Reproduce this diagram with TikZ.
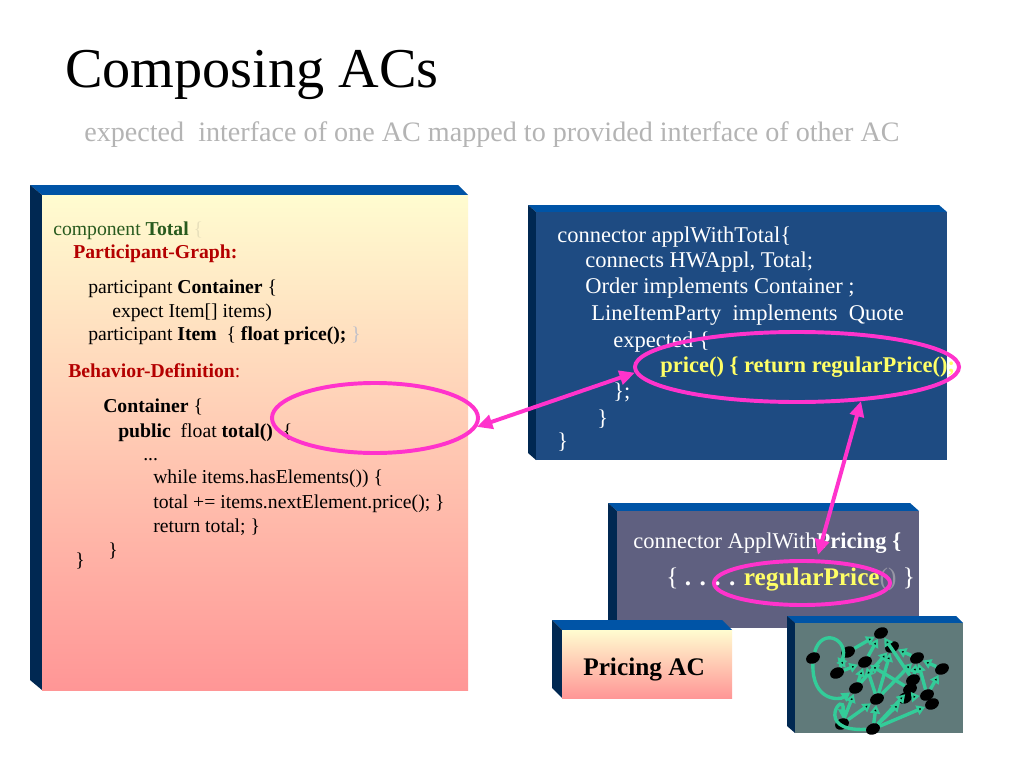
\documentclass[tikz,border=0pt]{standalone}
\usepackage{fontspec}
\setmainfont{Liberation Serif}
\usetikzlibrary{shapes.geometric,arrows.meta}
\definecolor{acface}{RGB}{0,84,166}
\definecolor{acside}{RGB}{0,40,82}
\definecolor{acyellow}{RGB}{255,252,208}
\definecolor{acpeach}{RGB}{255,214,182}
\definecolor{acsalmon}{RGB}{255,150,150}
\definecolor{connblue}{RGB}{30,75,130}
\definecolor{conngray}{RGB}{95,96,128}
\definecolor{graphgray}{RGB}{96,122,122}
\definecolor{hilite}{RGB}{255,51,204}
\definecolor{codegreen}{RGB}{40,90,30}
\definecolor{codered}{RGB}{180,0,0}
\definecolor{codeyellow}{RGB}{255,255,102}
\definecolor{faintbrace}{RGB}{232,224,188}
\definecolor{faintgray}{RGB}{150,150,165}
\definecolor{edgegreen}{RGB}{51,204,153}
\definecolor{subgray}{RGB}{180,180,180}

\begin{document}
\begin{tikzpicture}[x=0.025cm, y=-0.025cm,
    topface/.style={fill=acface},
    sideface/.style={fill=acside},
    codeline/.style={anchor=base west, inner sep=0pt, font=\fontsize{14}{16}\selectfont},
    connline/.style={anchor=base west, inner sep=0pt, text=white, font=\fontsize{16}{19}\selectfont},
    ring/.style={ellipse, draw=hilite, line width=2.8pt, inner sep=0pt},
    link/.style={draw=hilite, line width=2.8pt, {Triangle[length=11pt,width=10pt]}-{Triangle[length=11pt,width=10pt]}},
    gnode/.style={ellipse, fill=black, minimum width=0.36cm, minimum height=0.27cm, inner sep=0pt, rotate=25},
    gedge/.style={draw=edgegreen, line width=2.4pt, -{Triangle[length=6pt,width=7pt]}}]

        \fill[white] (0,0) rectangle (1024,768);
        \useasboundingbox (0,0) rectangle (1024,768);

        \node[anchor=base west, inner sep=0pt, font=\fontsize{40}{48}\selectfont] (title) at (65,88) {Composing ACs};
        \node[anchor=base west, inner sep=0pt, text=subgray, font=\fontsize{20}{24}\selectfont] (subtitle) at (84,142) {expected\ \ interface of one AC mapped to provided interface of other AC};

        \fill[topface] (30,185) -- (458,185) -- (468,195) -- (42,195) -- cycle;
        \fill[sideface] (30,185) -- (42,195) -- (42,690) -- (30,680) -- cycle;
        \shade[top color=acyellow, middle color=acpeach, bottom color=acsalmon] (42,195) rectangle (468,690);

        \node[codeline, text=codegreen] (comp) at (53,235) {component \textbf{Total} \textcolor{faintbrace}{\{}};
        \node[codeline, text=codered] (pgraph) at (73,258) {\textbf{Participant-Graph:}};
        \node[codeline] (pcont) at (88,293) {participant \textbf{Container} \{};
        \node[codeline] (pexpect) at (112,317) {expect Item[] items)};
        \node[codeline] (pitem) at (88,340) {participant \textbf{Item}\ \ \{ \textbf{float price();} \textcolor{faintgray!60}{\}}};
        \node[codeline, text=codered] (bdef) at (68,377) {\textbf{Behavior-Definition}:};
        \node[codeline] (bcont) at (103,412) {\textbf{Container} \{};
        \node[codeline] (btotal) at (118,437) {\textbf{public}\ \ float \textbf{total()}\ \ \{};
        \node[codeline] (bdots) at (143,460) {...};
        \node[codeline] (bwhile) at (153,483) {while items.hasElements()) \{};
        \node[codeline] (bsum) at (153,508) {total += items.nextElement.price(); \}};
        \node[codeline] (bret) at (153,532) {return total; \}};
        \node[codeline] (bend) at (108,556) {\}};
        \node[codeline] (cend) at (75,566) {\}};

        \fill[topface] (528,205) -- (939,205) -- (947,212) -- (536,212) -- cycle;
        \fill[sideface] (528,205) -- (536,212) -- (536,460) -- (528,453) -- cycle;
        \fill[connblue] (536,212) rectangle (947,460);

        \node[connline] (wtotal) at (557,242) {connector applWithTotal\{};
        \node[connline] (wconn) at (585,267) {connects HWAppl, Total;};
        \node[connline] (worder) at (585,293) {Order implements Container ;};
        \node[connline] (wline) at (591,320) {LineItemParty\ \ implements\ \ Quote};
        \node[connline] (wexp) at (613,347) {expected \{};
        \node[connline, text=codeyellow] (wprice) at (660,372) {\textbf{price() \{ return regularPrice();}};
        \node[connline] (wclose) at (613,398) {\};};
        \node[connline] (wend) at (597,425) {\}};
        \node[connline] (wlast) at (557,448) {\}};

        \fill[topface] (608,503) -- (910,503) -- (919,511) -- (617,511) -- cycle;
        \fill[sideface] (608,503) -- (617,511) -- (617,628) -- (608,620) -- cycle;
        \fill[conngray] (617,511) rectangle (919,628);

        \node[connline] (wpricing) at (633,548) {connector ApplWith\textbf{Pricing \{}};
        \node[connline, font=\fontsize{18}{21}\selectfont] (wreg) at (666,585) {\{ \textbf{. . . .} \textcolor{codeyellow}{\textbf{regularPrice}}\textcolor{faintgray}{()} \}};

        \fill[topface] (552,620) -- (722,620) -- (732,630) -- (562,630) -- cycle;
        \fill[sideface] (552,620) -- (562,630) -- (562,698) -- (552,688) -- cycle;
        \shade[top color=acyellow, bottom color=acsalmon] (562,630) rectangle (732,698);
        \node[anchor=base west, inner sep=0pt, font=\fontsize{18}{21}\selectfont\bfseries] (pricing) at (583,675) {Pricing AC};

        \fill[topface] (787,616) -- (956,616) -- (963,623) -- (795,623) -- cycle;
        \fill[sideface] (787,616) -- (795,623) -- (795,733) -- (787,726) -- cycle;
        \fill[graphgray] (795,623) rectangle (963,733);

        \node[gnode] (g1) at (881,633) {};
        \node[gnode] (g2) at (848,652) {};
        \node[gnode] (g3) at (892,647) {};
        \node[gnode] (g4) at (813,658) {};
        \node[gnode] (g5) at (865,662) {};
        \node[gnode] (g6) at (917,658) {};
        \node[gnode] (g7) at (837,673) {};
        \node[gnode] (g8) at (942,669) {};
        \node[gnode] (g9) at (913,680) {};
        \node[gnode] (g10) at (856,688) {};
        \node[gnode] (g11) at (910,689) {};
        \node[gnode] (g12) at (877,699) {};
        \node[gnode] (g13) at (905,698) {};
        \node[gnode] (g14) at (927,695) {};
        \node[gnode] (g15) at (932,704) {};
        \node[gnode] (g16) at (842,724) {};
        \node[gnode] (g17) at (873,729) {};

        \draw[gedge] (g4) .. controls (822,626) and (850,640) .. (g7);
        \draw[gedge] (g4) .. controls (812,702) and (840,700) .. (g10);
        \draw[gedge] (g17) .. controls (812,732) and (845,688) .. (g16);
        \path[gedge] (g7) edge (g2)
                     (g2) edge (g1)
                     (g7) edge (g5)
                     (g5) edge (g1)
                     (g10) edge (g5)
                     (g10) edge (g3)
                     (g12) edge (g3)
                     (g12) edge (g5)
                     (g16) edge (g10)
                     (g16) edge (g12)
                     (g17) edge (g12)
                     (g17) edge (g11)
                     (g17) edge (g13)
                     (g17) edge (g15)
                     (g13) edge (g14)
                     (g14) edge (g8)
                     (g8) edge (g6)
                     (g6) edge (g3)
                     (g9) edge (g6)
                     (g11) edge (g5)
                     (g12) edge (g6)
                     (g9) edge (g1)
                     (g14) edge (g6);

        \node[ring, minimum width=5.15cm, minimum height=1.75cm] (totalring) at (375,418) {};
        \node[ring, minimum width=8.1cm, minimum height=1.75cm] (pricering) at (797,367) {};
        \node[ring, minimum width=4.4cm, minimum height=1.1cm] (regring) at (802,583) {};

        \coordinate (regtip) at (818,555);
        \draw[link] (totalring.-5) -- (pricering.182);
        \draw[link] (pricering.-28) -- (regtip);

    \end{tikzpicture}
\end{document}
